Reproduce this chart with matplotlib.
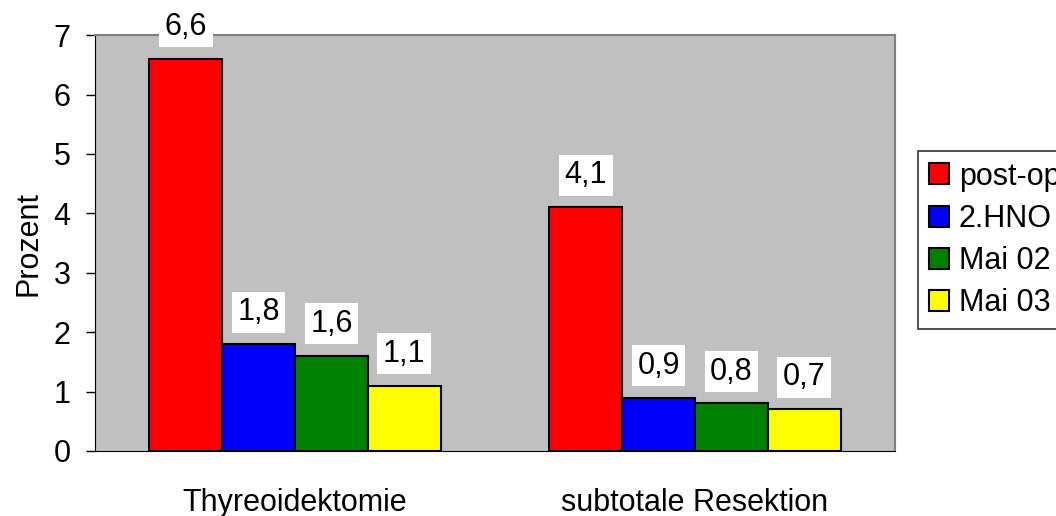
import numpy as np
import matplotlib.pyplot as plt

plt.rcParams['font.family'] = ['Liberation Sans', 'DejaVu Sans']

# Daten
gruppen = ["Thyreoidektomie", "subtotale Resektion"]
serien = ["post-op", "2.HNO", "Mai 02", "Mai 03"]
post_op = [6.6, 4.1]
hno2 = [1.8, 0.9]
mai02 = [1.6, 0.8]
mai03 = [1.1, 0.7]
farben = ["#FF0000", "#0000FF", "#008000", "#FFFF00"]

werte = [post_op, hno2, mai02, mai03]
fs = 22

fig = plt.figure(figsize=(10.56, 5.16), dpi=100)
ax = fig.add_axes([0.09, 0.126, 0.7576, 0.806])
ax.set_facecolor("#C0C0C0")

x = np.arange(len(gruppen))
breite = 0.182
for i, (name, w, f) in enumerate(zip(serien, werte, farben)):
    pos = x + (i - 1.5) * breite
    ax.bar(pos, w, breite, color=f, edgecolor="black", linewidth=1.5, label=name, zorder=3)
    # Werte über den Balken
    for px, v in zip(pos, w):
        ax.annotate(f"{v:.1f}".replace(".", ","), (px, v), xytext=(0, 23),
                    textcoords="offset points", ha="center", va="center", fontsize=fs,
                    bbox=dict(boxstyle="square,pad=0.18", fc="white", ec="none"),
                    zorder=4, annotation_clip=False)

ax.set_xlim(-0.5, 1.5)
ax.set_ylim(0, 7)
ax.set_yticks(range(8))
ax.set_xticks(x)
ax.set_xticklabels(gruppen)
ax.tick_params(axis="x", length=0, pad=27, labelsize=fs)
ax.tick_params(axis="y", length=6.5, width=1, labelsize=fs, pad=11)
ax.set_ylabel("Prozent", fontsize=fs, labelpad=7)

for s in ["top", "right"]:
    ax.spines[s].set_color("#808080")
    ax.spines[s].set_linewidth(1.5)
ax.spines["left"].set_color("black")
ax.spines["bottom"].set_color("black")

leg = fig.legend(loc="upper left", bbox_to_anchor=(918 / 1056, 1 - 151 / 516), borderaxespad=0,
                 fontsize=fs, frameon=True, fancybox=False, edgecolor="black",
                 handlelength=0.68, handleheight=0.68, handletextpad=0.3,
                 labelspacing=0.4, borderpad=0.35)
leg.get_frame().set_linewidth(1.2)

fig.savefig("out.png", dpi=100)
